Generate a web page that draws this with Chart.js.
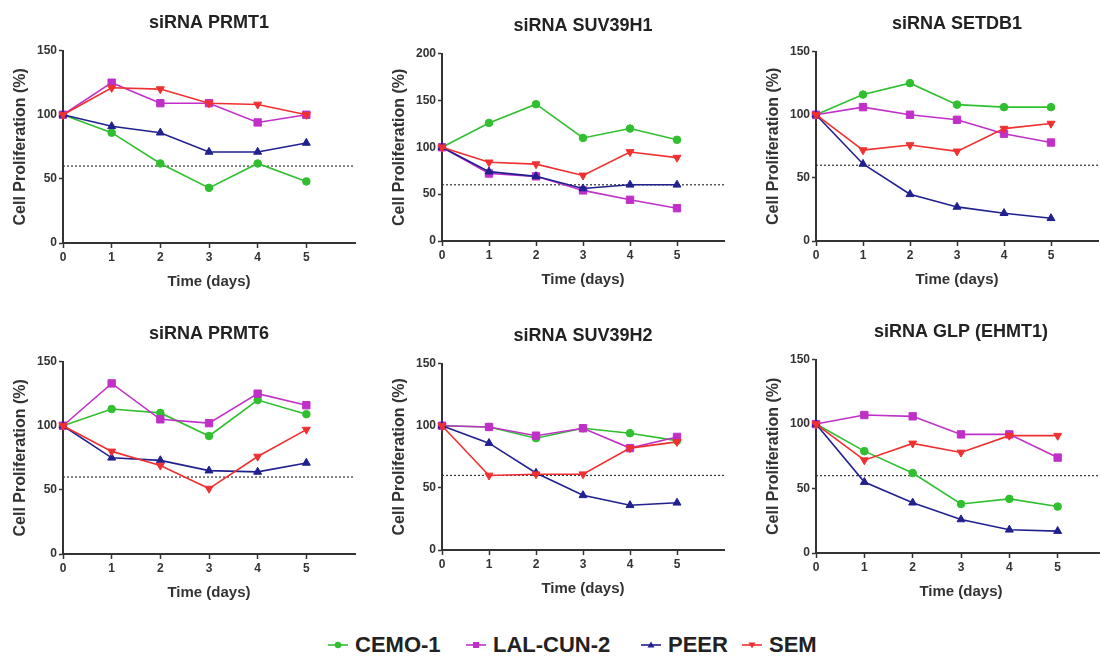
<!DOCTYPE html>
<html>
<head>
<meta charset="utf-8">
<script src="https://cdn.jsdelivr.net/npm/chart.js@4/dist/chart.umd.min.js"></script>
<style>
  html, body { margin: 0; padding: 0; background: #fff; overflow: hidden; }
  body { width: 1100px; height: 658px; position: relative; font-family: "Liberation Sans", Arial, sans-serif; }
  canvas { position: absolute; }
  .leg { position: absolute; top: 632px; height: 26px; display: flex; align-items: center;
         font: bold 22px "Liberation Sans", Arial, sans-serif; color: #222; white-space: nowrap; }
  .leg svg { margin-right: 6px; }
</style>
</head>
<body>
<div id="legend"></div>
<script>
// shared x values and series
const days = [0, 1, 2, 3, 4, 5];
const seriesNames = ["CEMO-1", "LAL-CUN-2", "PEER", "SEM"];
const seriesColors = ["#2fbf2f", "#c030c8", "#20208f", "#f03030"];
const panelTitles = ["siRNA PRMT1", "siRNA SUV39H1", "siRNA SETDB1",
                     "siRNA PRMT6", "siRNA SUV39H2", "siRNA GLP (EHMT1)"];
const yMax = [150, 200, 150, 150, 150, 150];
const yStep = 50;
const threshold = 60;

// values per panel: [CEMO-1, LAL-CUN-2, PEER, SEM]
const prmt1 = [
  [100, 86, 62, 43, 62, 48],
  [100, 125, 109, 109, 94, 100],
  [100, 91, 86, 71, 71, 78],
  [100, 121, 120, 109, 108, 100]
];
const suv39h1 = [
  [100, 126, 146, 110, 120, 108],
  [100, 72, 69, 54, 44, 35],
  [100, 74, 69, 56, 60, 60],
  [100, 84, 82, 70, 95, 89]
];
const setdb1 = [
  [100, 116, 125, 108, 106, 106],
  [100, 106, 100, 96, 85, 78],
  [100, 61, 37, 27, 22, 18],
  [100, 72, 76, 71, 89, 93]
];
const prmt6 = [
  [100, 113, 110, 92, 120, 109],
  [100, 133, 105, 102, 125, 116],
  [100, 75, 73, 65, 64, 71],
  [100, 80, 69, 51, 76, 97]
];
const suv39h2 = [
  [100, 99, 90, 98, 94, 88],
  [100, 99, 92, 98, 82, 91],
  [100, 86, 62, 44, 36, 38],
  [100, 60, 61, 61, 82, 87]
];
const glp = [
  [100, 79, 62, 38, 42, 36],
  [100, 107, 106, 92, 92, 74],
  [100, 55, 39, 26, 18, 17],
  [100, 72, 85, 78, 91, 91]
];
const panelData = [prmt1, suv39h1, setdb1, prmt6, suv39h2, glp];

// plot area of each panel in page pixels: axis x, right end, top, bottom
const boxes = [
  { x: 63,  right: 355,  top: 51,  bottom: 243 },
  { x: 442, right: 724,  top: 54,  bottom: 241 },
  { x: 816, right: 1098, top: 52,  bottom: 241 },
  { x: 63,  right: 355,  top: 362, bottom: 554 },
  { x: 442, right: 724,  top: 364, bottom: 550 },
  { x: 816, right: 1106, top: 360, bottom: 553 }
];

const pointStyles = ["circle", "rect", "triangle", "triangle"];
const pointRot = [0, 0, 0, 180];
const pointSizes = [3.8, 5.2, 4.6, 4.6];
const AXIS_W = 62;
const XAXIS_H = 50;
const TOP_H = 52;
const axisColor = "#333";
const font = "'Liberation Sans', Arial, sans-serif";

panelData.forEach((rows, p) => {
  const b = boxes[p];
  const canvas = document.createElement("canvas");
  const w = AXIS_W * 2 + (b.right - b.x);
  const h = TOP_H + (b.bottom - b.top) + XAXIS_H;
  canvas.width = w;
  canvas.height = h;
  canvas.style.left = (b.x - AXIS_W) + "px";
  canvas.style.top = (b.top - TOP_H) + "px";
  document.body.appendChild(canvas);

  const datasets = rows.map((vals, i) => ({
    label: seriesNames[i],
    data: days.map((d, k) => ({ x: d, y: vals[k] })),
    borderColor: seriesColors[i],
    backgroundColor: seriesColors[i],
    borderWidth: 1.6,
    pointStyle: pointStyles[i],
    rotation: pointRot[i],
    pointRadius: pointSizes[i],
    pointBorderWidth: 1,
    tension: 0,
    order: 3 - i
  }));
  datasets.push({
    label: "threshold",
    data: [{ x: 0, y: threshold }, { x: 6, y: threshold }],
    borderColor: "#333",
    borderWidth: 1.2,
    borderDash: [2, 2],
    pointRadius: 0,
    order: 10
  });

  new Chart(canvas.getContext("2d"), {
    type: "line",
    data: { datasets },
    options: {
      responsive: false,
      animation: false,
      clip: false,
      layout: { padding: 0 },
      plugins: {
        legend: { display: false },
        tooltip: { enabled: false },
        title: {
          display: true,
          text: panelTitles[p],
          color: "#222",
          font: { family: font, size: 18, weight: "bold" },
          padding: { top: 13, bottom: 17 }
        }
      },
      scales: {
        x: {
          type: "linear",
          min: 0,
          max: 6,
          afterFit: (s) => { s.height = XAXIS_H; },
          ticks: {
            stepSize: 1,
            padding: 2,
            color: "#333",
            font: { family: font, size: 12, weight: "bold" },
            callback: (v) => (v === 6 ? "" : v)
          },
          grid: {
            display: true,
            drawOnChartArea: false,
            drawTicks: true,
            tickLength: 5,
            tickWidth: 1.5,
            tickColor: (ctx) => (ctx.tick && ctx.tick.value === 6 ? "rgba(0,0,0,0)" : axisColor)
          },
          border: { color: axisColor, width: 2 },
          title: {
            display: true,
            text: "Time (days)",
            color: "#333",
            font: { family: font, size: 15, weight: "bold" },
            padding: { top: 0, bottom: 2 }
          }
        },
        y: {
          min: 0,
          max: yMax[p],
          afterFit: (s) => { s.width = AXIS_W; },
          ticks: {
            stepSize: yStep,
            padding: 2,
            color: "#333",
            font: { family: font, size: 12, weight: "bold" }
          },
          grid: {
            display: true,
            drawOnChartArea: false,
            drawTicks: true,
            tickLength: 4,
            tickWidth: 1.5,
            tickColor: axisColor
          },
          border: { color: axisColor, width: 2 },
          title: {
            display: true,
            text: "Cell Proliferation (%)",
            color: "#333",
            font: { family: font, size: 16, weight: "bold" },
            padding: { top: 10, bottom: 0 }
          }
        },
        // empty right-hand box so the title centres over the plot area
        yPad: {
          position: "right",
          min: 0,
          max: 1,
          afterFit: (s) => { s.width = AXIS_W; },
          ticks: { display: false },
          grid: { display: false },
          border: { display: false }
        }
      }
    }
  });
});

// legend along the bottom
const legendX = [327, 465, 640, 741];
const legendEl = document.getElementById("legend");
function markerSvg(i) {
  const c = seriesColors[i];
  let shape;
  if (i === 0) shape = `<circle cx="11" cy="7" r="3.2" fill="${c}"/>`;
  else if (i === 1) shape = `<rect x="8" y="4" width="6" height="6" fill="${c}"/>`;
  else if (i === 2) shape = `<polygon points="11,3.5 14.5,9.5 7.5,9.5" fill="${c}"/>`;
  else shape = `<polygon points="11,10.5 14.5,4.5 7.5,4.5" fill="${c}"/>`;
  return `<svg width="22" height="14" viewBox="0 0 22 14"><line x1="1" y1="7" x2="21" y2="7" stroke="${c}" stroke-width="1.6"/>${shape}</svg>`;
}
seriesNames.forEach((name, i) => {
  const d = document.createElement("div");
  d.className = "leg";
  d.style.left = legendX[i] + "px";
  d.innerHTML = markerSvg(i) + "<span>" + name + "</span>";
  legendEl.appendChild(d);
});
</script>
</body>
</html>
